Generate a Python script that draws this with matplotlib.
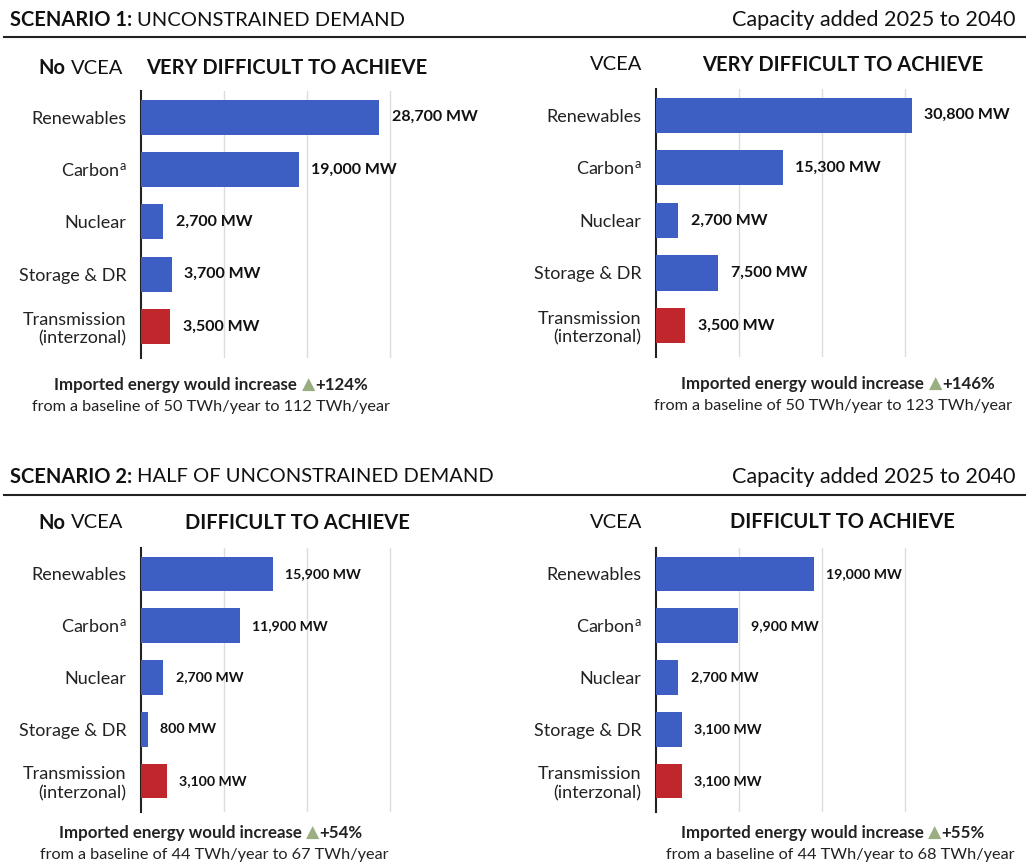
import numpy as np
import matplotlib
matplotlib.use('Agg')
import matplotlib.pyplot as plt

plt.rcParams['font.family'] = ['Lato', 'DejaVu Sans']
plt.rcParams['mathtext.fontset'] = 'custom'
plt.rcParams['mathtext.rm'] = 'Lato'
plt.rcParams['mathtext.it'] = 'Lato'

# data
categories = ['Renewables', r'Carbon$^{\rm a}$', 'Nuclear', 'Storage & DR', 'Transmission\n(interzonal)']
s1_no_vcea = [28700, 19000, 2700, 3700, 3500]
s1_vcea = [30800, 15300, 2700, 7500, 3500]
s2_no_vcea = [15900, 11900, 2700, 800, 3100]
s2_vcea = [19000, 9900, 2700, 3100, 3100]
difficulty = ['VERY DIFFICULT TO ACHIEVE', 'VERY DIFFICULT TO ACHIEVE',
              'DIFFICULT TO ACHIEVE', 'DIFFICULT TO ACHIEVE']
import_pct = [124, 146, 54, 55]
import_from = [50, 50, 44, 44]
import_to = [112, 123, 67, 68]

BLUE = '#3d5fc4'
RED = '#c0272d'
GREEN = '#9aae82'
W, H = 1026, 865

fig = plt.figure(figsize=(W / 100, H / 100), dpi=100, facecolor='w')
renderer = fig.canvas.get_renderer()


def fx(x):
    return x / W


def fy(y):
    return 1 - y / H


def rich(x, y, parts, ha='left', size=12):
    # parts: (text, weight, color, family, size or None, gap after in px or None)
    texts, gaps = [], []
    for s, wt, col, fam, sz, gp in parts:
        kw = dict(fontsize=sz or size, fontweight=wt, color=col, va='center')
        if fam:
            kw['family'] = fam
        texts.append(fig.text(0, fy(y), s, **kw))
        gaps.append(size * 100 / 72 * 0.25 if gp is None else gp)
    widths = [t.get_window_extent(renderer).width for t in texts]
    total = sum(widths) + sum(gaps[:-1])
    start = {'left': x, 'center': x - total / 2, 'right': x - total}[ha]
    cur = start
    for t, w, g in zip(texts, widths, gaps):
        t.set_x(fx(cur))
        cur += w + g


# headers
for y_txt, y_rule, num, name in [(20, 37, '1', 'UNCONSTRAINED DEMAND'),
                                  (477, 495, '2', 'HALF OF UNCONSTRAINED DEMAND')]:
    rich(10, y_txt, [('SCENARIO %s:' % num, 'bold', '#111', None, None, None),
                     (name, 'normal', '#111', None, None, None)], size=14.5)
    fig.text(fx(1015), fy(y_txt), 'Capacity added 2025 to 2040', fontsize=15.6,
             ha='right', va='center', color='#111')
    fig.add_artist(plt.Line2D([fx(4), fx(1026)], [fy(y_rule), fy(y_rule)],
                              color='#222', lw=1.5))

panels = [
    (s1_no_vcea, 141, 91, 358, True, 68, 287, (211, 211), (385, 407)),
    (s1_vcea, 656, 89, 357, False, 65, 843, (838, 833), (384, 406)),
    (s2_no_vcea, 141, 548, 812, True, 523, 297, (211, 214), (833, 855)),
    (s2_vcea, 656, 548, 812, False, 522, 842, (833, 840), (833, 855)),
]

xmax = 35000
px_per_mw = 0.0083
for i, (vals, left, top, bottom, no, ty, tcx, ncx, ny) in enumerate(panels):
    ax = fig.add_axes([fx(left), fy(bottom), xmax * px_per_mw / W, (bottom - top) / H])
    y = np.arange(len(categories))
    colors = [BLUE] * 4 + [RED]
    ax.barh(y, vals, height=0.67, color=colors, zorder=3)
    ax.set_xlim(0, xmax)
    ax.set_ylim(4.6, -0.5)
    ax.set_xticks([10000, 20000, 30000])
    ax.xaxis.grid(True, color='#dcdcdc', lw=1, zorder=0)
    ax.tick_params(axis='x', length=0, labelbottom=False)
    ax.set_yticks(y)
    ax.set_yticklabels(categories, fontsize=13, color='#222', linespacing=1.2)
    ax.tick_params(axis='y', length=0, pad=10.5)
    for sp in ['top', 'right', 'bottom']:
        ax.spines[sp].set_visible(False)
    ax.spines['left'].set_color('#222')
    ax.spines['left'].set_linewidth(1.5)
    lsize = 11.5 if i < 2 else 10.2
    for yi, v in zip(y, vals):
        ax.annotate('{:,} MW'.format(v), (v, yi), xytext=(9, 0), textcoords='offset points',
                    va='center', ha='left', fontsize=lsize, fontweight='bold', color='#111')

    # panel title
    if no:
        rich(123, ty, [('No', 'bold', '#111', None, None, None),
                       ('VCEA', 'normal', '#111', None, None, None)], ha='right', size=14.5)
    else:
        fig.text(fx(642), fy(ty), 'VCEA', fontsize=14.5, ha='right', va='center', color='#111')
    fig.text(fx(tcx), fy(ty), difficulty[i], fontsize=14.5, fontweight='bold',
             ha='center', va='center', color='#111')

    # imported energy note
    rich(ncx[0], ny[0], [('Imported energy would increase', 'bold', '#222', None, None, None),
                         ('\u25b2', 'normal', GREEN, ['DejaVu Sans'], 12.5, 0),
                         ('+%d%%' % import_pct[i], 'bold', '#222', None, None, 0)],
         ha='center', size=12.2)
    fig.text(fx(ncx[1]), fy(ny[1]),
             'from a baseline of %d TWh/year to %d TWh/year' % (import_from[i], import_to[i]),
             fontsize=11.7, ha='center', va='center', color='#222')

fig.savefig('out.png', dpi=100, facecolor='w')
